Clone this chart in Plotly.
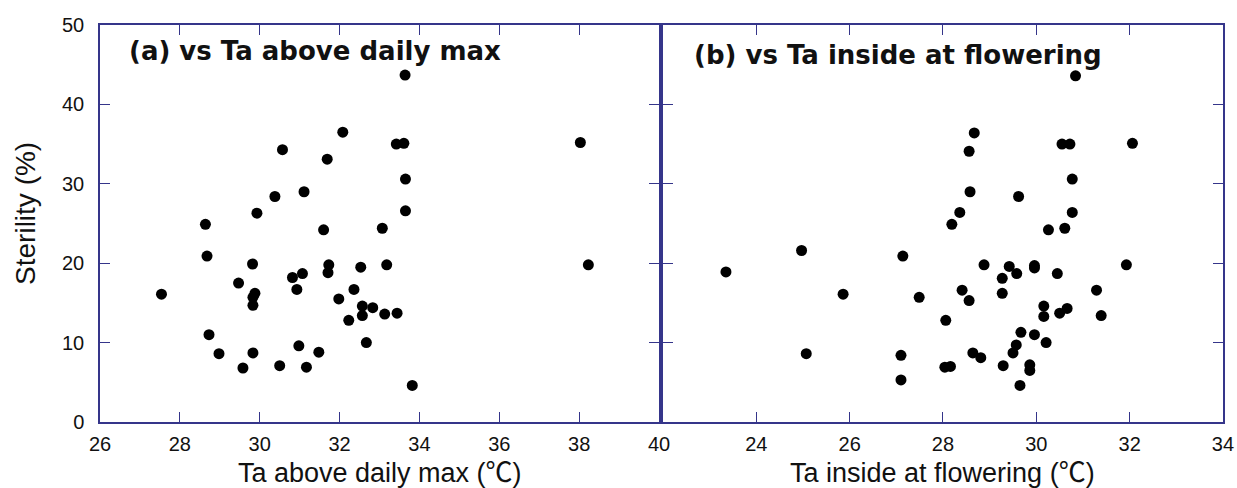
import plotly.graph_objects as go

# Panel (a): Ta above daily max vs sterility
ta_max = [33.64, 32.08, 30.57, 31.69, 33.42, 33.61, 33.65, 31.11, 30.38, 29.93,
          33.65, 28.64, 31.60, 33.07, 38.03,
          28.68, 27.54, 29.82, 29.47, 29.88, 29.83, 29.83, 30.82, 31.07, 30.93,
          31.73, 31.71, 32.53, 33.18, 31.98, 32.36, 32.57, 32.57, 32.83, 32.23,
          33.13, 33.44, 32.67, 28.73, 28.98, 29.83, 29.58, 30.50, 30.98, 31.17,
          31.48, 33.82, 38.23]
ster_a = [43.7, 36.5, 34.3, 33.1, 35.0, 35.1, 30.6, 29.0, 28.4, 26.3,
          26.6, 24.9, 24.2, 24.4, 35.2,
          20.9, 16.1, 19.9, 17.5, 16.2, 15.7, 14.7, 18.2, 18.7, 16.7,
          19.8, 18.8, 19.5, 19.8, 15.5, 16.7, 14.6, 13.4, 14.4, 12.8,
          13.6, 13.7, 10.0, 11.0, 8.6, 8.7, 6.8, 7.1, 9.6, 6.9,
          8.8, 4.6, 19.8]

# Panel (b): Ta inside at flowering vs sterility
ta_flow = [30.84, 28.67, 28.56, 30.55, 30.72, 32.06, 30.77, 28.58, 29.62, 28.36,
           30.77, 28.19, 30.26, 30.61,
           24.97, 23.35, 25.86, 27.14, 27.49, 25.07, 27.10, 27.10,
           28.88, 29.42, 29.58, 29.96, 29.96, 30.45, 31.93, 29.27, 28.41, 29.27,
           28.56, 31.29, 28.06, 30.16, 30.16, 30.50, 30.66, 31.39, 29.67, 29.96,
           30.21, 29.57, 29.50, 28.64, 28.81, 28.04, 28.16, 29.29, 29.86, 29.86,
           29.65]
ster_b = [43.6, 36.4, 34.1, 35.0, 35.0, 35.1, 30.6, 29.0, 28.4, 26.4,
          26.4, 24.9, 24.2, 24.4,
          21.6, 18.9, 16.1, 20.9, 15.7, 8.6, 8.4, 5.3,
          19.8, 19.6, 18.7, 19.7, 19.4, 18.7, 19.8, 18.1, 16.6, 16.2,
          15.3, 16.6, 12.8, 14.6, 13.3, 13.7, 14.3, 13.4, 11.3, 11.0,
          10.0, 9.7, 8.7, 8.7, 8.1, 6.9, 7.0, 7.1, 7.2, 6.5,
          4.6]

xa_ticks = [26, 28, 30, 32, 34, 36, 38, 40]
xb_ticks = [22, 24, 26, 28, 30, 32, 34]
xb_labels = ["", "24", "26", "28", "30", "32", "34"]
y_ticks = [0, 10, 20, 30, 40, 50]

xa_title = "Ta above daily max (℃)"
xb_title = "Ta inside at flowering (℃)"
y_title = "Sterility (%)"
title_a = "(a) vs Ta above daily max"
title_b = "(b) vs Ta inside at flowering"

LINE = "#35358a"
tick_font = dict(family="Liberation Sans, Arial, sans-serif", size=20, color="#111")
title_font = dict(family="Liberation Sans, Noto Sans CJK JP, sans-serif", size=27, color="#111")

fig = go.Figure()
marker = dict(color="black", size=11, line=dict(width=0))
fig.add_trace(go.Scatter(x=ta_max, y=ster_a, mode="markers", marker=marker,
                         xaxis="x", yaxis="y", showlegend=False))
fig.add_trace(go.Scatter(x=ta_flow, y=ster_b, mode="markers", marker=marker,
                         xaxis="x2", yaxis="y2", showlegend=False))

common = dict(showline=True, linecolor=LINE, linewidth=1.5, mirror="ticks",
              ticks="inside", ticklen=10, tickwidth=1.3, tickcolor=LINE,
              showgrid=False, zeroline=False, tickfont=tick_font, automargin=False)

fig.update_layout(
    width=1237, height=488,
    margin=dict(l=100, r=14, t=25, b=66),
    paper_bgcolor="white", plot_bgcolor="white",
    xaxis=dict(domain=[0, 0.4978], range=[26, 40], tickmode="array",
               tickvals=xa_ticks, ticktext=[str(v) for v in xa_ticks],
               ticklabelstandoff=3, anchor="y", **common),
    yaxis=dict(domain=[0, 1], range=[0, 50], tickmode="array", tickvals=y_ticks,
               ticklabelstandoff=10, anchor="x", **common),
    xaxis2=dict(domain=[0.5013, 1], range=[22, 34], tickmode="array",
                tickvals=xb_ticks, ticktext=xb_labels, ticklabelstandoff=3,
                anchor="y2", **common),
    yaxis2=dict(domain=[0, 1], range=[0, 50], tickmode="array", tickvals=y_ticks,
                showticklabels=False, anchor="x2", **common),
)

# axis titles
fig.add_annotation(text=xa_title, xref="x domain", yref="paper", x=0.5, y=-0.128,
                   xanchor="center", yanchor="middle", showarrow=False, font=title_font)
fig.add_annotation(text=xb_title, xref="x2 domain", yref="paper", x=0.5, y=-0.128,
                   xanchor="center", yanchor="middle", showarrow=False, font=title_font)
fig.add_annotation(text=y_title, xref="paper", yref="paper", x=-0.067, y=0.526,
                   xanchor="center", yanchor="middle", textangle=-90, showarrow=False,
                   font=dict(family="Liberation Sans, sans-serif", size=28, color="#111"))

ann_font = dict(family="DejaVu Sans, sans-serif", size=26, color="#111")
fig.add_annotation(text="<b>" + title_a + "</b>", xref="x domain", yref="y domain",
                   x=0.048, y=0.935, xanchor="left", yanchor="middle", showarrow=False,
                   font=ann_font)
fig.add_annotation(text="<b>" + title_b + "</b>", xref="x2 domain", yref="y2 domain",
                   x=0.052, y=0.925, xanchor="left", yanchor="middle", showarrow=False,
                   font=ann_font)

fig.write_html("out.html")
